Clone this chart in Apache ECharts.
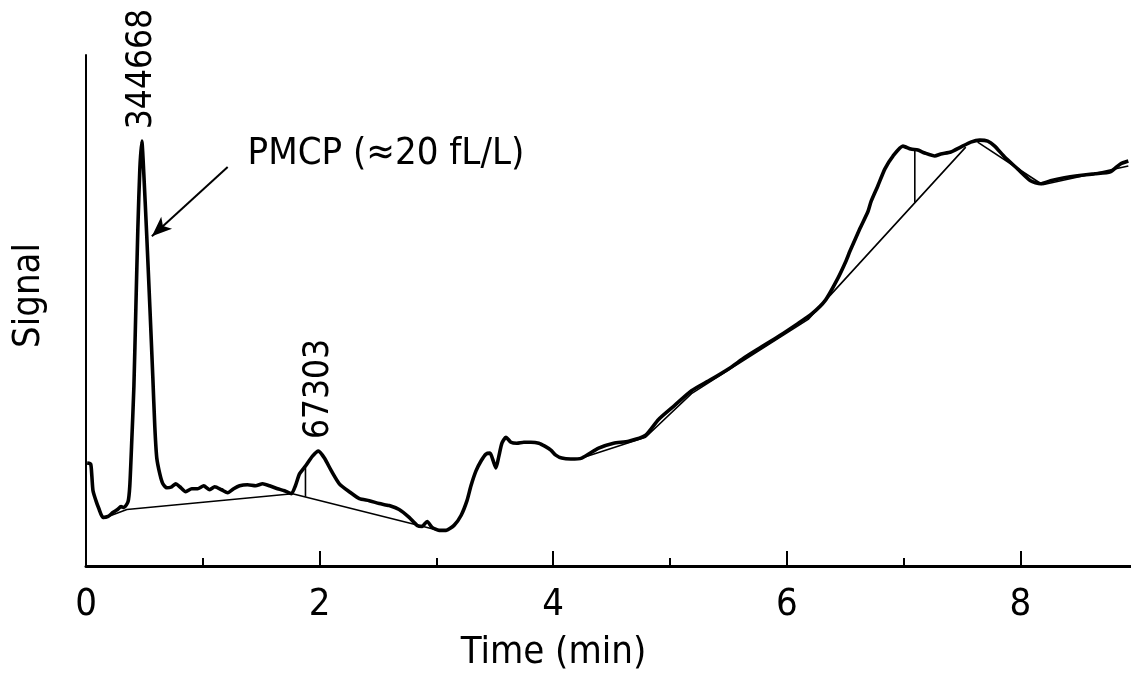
<!DOCTYPE html>
<html>
<head>
<meta charset="utf-8">
<script src="https://cdn.jsdelivr.net/npm/echarts@6/dist/echarts.min.js"></script>
<style>
html,body{margin:0;padding:0;background:#fff;overflow:hidden;width:1131px;height:677px;}
#chart{width:1257px;height:677px;}
</style>
</head>
<body>
<div id="chart"></div>
<script>
// Chromatogram trace: time (min) and signal (arbitrary units)
var timeValues = [0.01,0.04,0.05,0.06,0.085,0.11,0.145,0.19,0.23,0.27,0.30,0.325,0.36,0.375,0.39,0.41,0.427,0.444,0.461,0.478,0.495,0.521,0.547,0.572,0.589,0.606,0.632,0.658,0.692,0.734,0.769,0.803,0.854,0.905,0.956,1.008,1.059,1.102,1.161,1.213,1.264,1.315,1.383,1.452,1.512,1.571,1.640,1.699,1.759,1.793,1.828,1.879,1.939,1.990,2.041,2.101,2.169,2.254,2.340,2.425,2.511,2.596,2.681,2.767,2.835,2.878,2.921,2.963,3.023,3.083,3.151,3.211,3.262,3.296,3.339,3.382,3.424,3.459,3.484,3.510,3.535,3.561,3.595,3.638,3.689,3.749,3.809,3.877,3.928,3.980,4.022,4.073,4.150,4.244,4.389,4.517,4.646,4.791,4.902,5.038,5.184,5.346,5.500,5.645,5.781,5.944,6.097,6.208,6.328,6.439,6.507,6.541,6.627,6.695,6.721,6.780,6.840,6.909,6.994,7.062,7.122,7.182,7.267,7.319,7.404,7.489,7.575,7.652,7.720,7.780,7.865,7.976,8.087,8.172,8.258,8.377,8.488,8.634,8.770,8.856,8.924];
var signalValues = [104,103,91,76,66,58,49,50,54,57,60,59,65,81,121,181,261,341,401,429,396,331,261,191,141,109,93,83,79,80,83,80,75,78,78,81,77,80,77,74,78,81,82,81,83,81,78,76,73,81,93,101,111,116,109,96,83,75,68,66,63,61,57,49,41,40,45,39,36,36,41,51,66,81,96,106,113,114,107,99,111,124,130,125,124,125,125,124,121,117,112,109,108,109,119,124,126,132,148,162,177,188,199,211,221,233,245,254,268,291,308,318,341,358,368,384,401,414,424,421,420,417,414,416,418,423,428,430,429,424,413,401,389,386,389,392,394,396,398,406,409];

// Integration baselines and drop lines: [time, signal]
var baseline1 = [[0.145,48],[0.350,57],[1.768,73]];
var baseline2 = [[1.768,73],[3.049,35]];
var dropLine1 = [[1.879,101],[1.879,70]];
var baseline3 = [[4.244,109],[4.791,130],[5.184,174],[6.183,249],[7.532,423]];
var dropLine2 = [[7.096,419],[7.096,367]];
var baseline4 = [[7.634,428],[8.190,385]];
var baseline5 = [[8.190,385],[8.924,404]];

// Peak area labels
var peakLabels = ['344668','67303'];
var peakTimes = [0.478, 1.990];
var peakSignals = [429, 116];

// Annotation
var annotationText = 'PMCP (\u224820 fL/L)';
var annotationPos = [1.383, 416];
var arrowFrom = [1.213, 403];
var arrowTo = [0.564, 333];

var xTickLabels = ['0','2','4','6','8'];

var FONT = "'Liberation Sans Narrow','DejaVu Sans Condensed','Arial Narrow',sans-serif";
var FS = 38;

var trace = timeValues.map(function(t,i){return [t, signalValues[i]];});

function thin(data){
  return {type:'line', data:data, symbol:'none', silent:true,
    lineStyle:{color:'#000', width:1.6}, z:3};
}

var chart = echarts.init(document.getElementById('chart'), null, {renderer:'canvas'});
chart.setOption({
  animation:false,
  backgroundColor:'#fff',
  grid:{left:86, right:0, top:55, bottom:106, containLabel:false},
  xAxis:{
    type:'value', min:0, max:10, interval:2,
    name:'Time (min)', nameLocation:'middle', nameGap:68,
    nameTextStyle:{fontFamily:FONT, fontSize:FS, color:'#000', padding:[0,233,0,0]},
    axisLine:{show:true, lineStyle:{color:'#000', width:3}},
    axisTick:{show:true, inside:true, length:15, lineStyle:{color:'#000', width:2}},
    minorTick:{show:true, splitNumber:2, length:8, lineStyle:{color:'#000', width:2}},
    splitLine:{show:false},
    axisLabel:{fontFamily:FONT, fontSize:FS, color:'#000', margin:20,
      formatter:function(v){
        var k = Math.round(v);
        if (Math.abs(v-k) > 1e-6) return '';
        var s = String(k);
        return xTickLabels.indexOf(s) >= 0 ? s : '';
      }}
  },
  yAxis:{
    type:'value', min:0, max:516,
    name:'Signal', nameLocation:'middle', nameGap:38, nameRotate:90,
    nameTextStyle:{fontFamily:FONT, fontSize:FS, color:'#000', padding:[0,0,0,30]},
    axisLine:{show:true, lineStyle:{color:'#000', width:2}},
    axisTick:{show:false}, axisLabel:{show:false}, splitLine:{show:false}
  },
  series:[
    {type:'line', data:trace, symbol:'none', smooth:0.2, silent:true,
      lineStyle:{color:'#000', width:3.6}, z:5},
    thin(baseline1), thin(baseline2), thin(dropLine1), thin(baseline3),
    thin(dropLine2), thin(baseline4), thin(baseline5),
    {type:'scatter', symbolSize:0, silent:true, z:6, itemStyle:{opacity:1},
      data:peakTimes.map(function(t,i){return {value:[t, peakSignals[i]], name:peakLabels[i]};}),
      label:{show:true, position:'top', distance:12, rotate:90, align:'left', verticalAlign:'middle',
        formatter:function(p){return p.name;},
        fontFamily:FONT, fontSize:35, color:'#000'}},
    {type:'scatter', symbolSize:0, silent:true, z:6, itemStyle:{opacity:1},
      data:[{value:annotationPos, name:annotationText}],
      label:{show:true, position:'inside', align:'left', verticalAlign:'middle',
        formatter:function(p){return p.name;},
        fontFamily:FONT, fontSize:FS, color:'#000'},
      markLine:{silent:true, symbol:['none','arrow'], symbolSize:[12,20],
        lineStyle:{color:'#000', width:2, type:'solid'}, label:{show:false},
        data:[[{coord:arrowFrom},{coord:arrowTo}]]}}
  ]
});
</script>
</body>
</html>
